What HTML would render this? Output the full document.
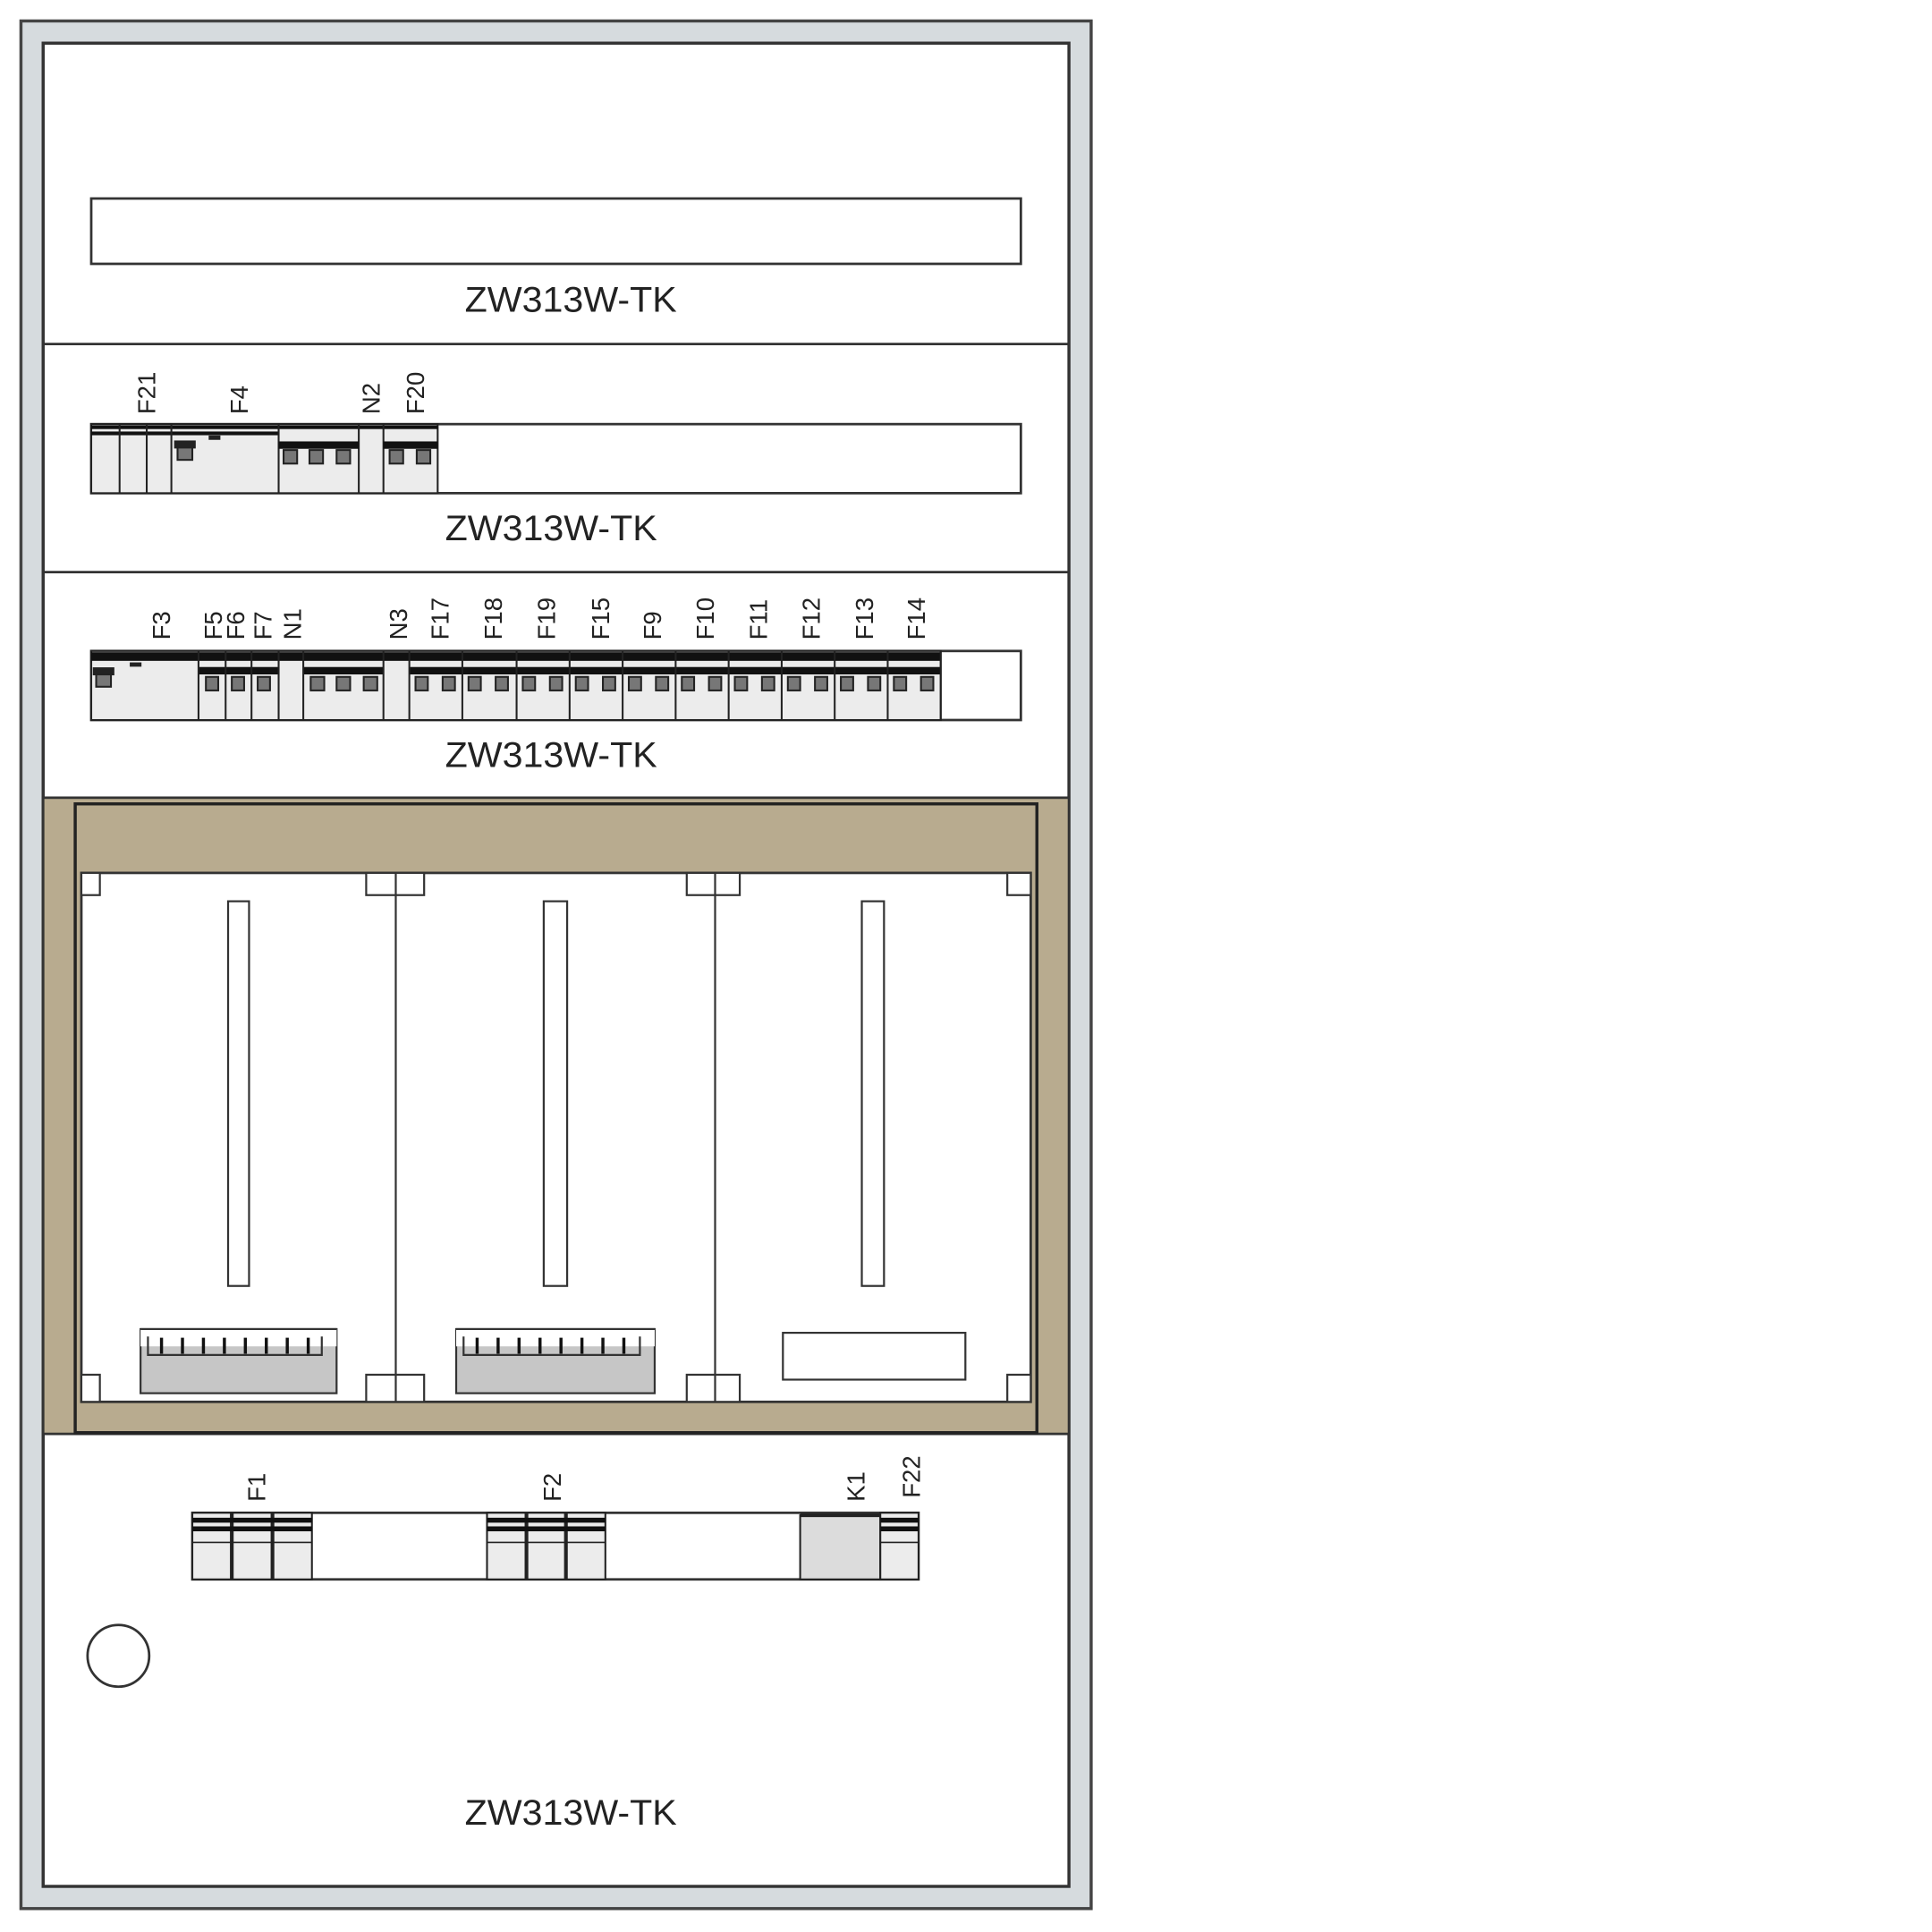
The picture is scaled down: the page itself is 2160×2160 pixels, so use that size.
<!DOCTYPE html>
<html><head><meta charset="utf-8"><style>html,body{margin:0;padding:0;background:#fff}svg{display:block}</style></head>
<body>
<svg width="2160" height="2160" viewBox="0 0 1567 1567" xmlns="http://www.w3.org/2000/svg" font-family="Liberation Sans, sans-serif">
<rect x="0" y="0" width="1567" height="1567" fill="#fff"/>
<!-- frame -->
<rect x="17" y="17" width="868" height="1531" fill="#d6dbde" stroke="#444" stroke-width="2.5"/>
<rect x="35" y="35" width="832" height="1495" fill="#fff" stroke="#333" stroke-width="2.5"/>
<line x1="35" y1="279" x2="867" y2="279" stroke="#333" stroke-width="2"/>
<line x1="35" y1="464" x2="867" y2="464" stroke="#333" stroke-width="2"/>

<!-- section 1 -->
<rect x="74" y="161" width="754" height="53" fill="#fff" stroke="#333" stroke-width="2"/>
<text x="463" y="253" font-size="29" text-anchor="middle" textLength="172" lengthAdjust="spacingAndGlyphs" fill="#222">ZW313W-TK</text>

<!-- section 2 -->
<rect x="74" y="344" width="754" height="56" fill="#fff" stroke="#333" stroke-width="2"/>
<g stroke="#222" stroke-width="1.5">
<rect x="74" y="344" width="281" height="56" fill="#ececec"/>
<rect x="74" y="345" width="281" height="3" fill="#111" stroke="none"/>
<rect x="74" y="350" width="152" height="3" fill="#111" stroke="none"/>
<line x1="97" y1="344" x2="97" y2="400"/><line x1="119" y1="344" x2="119" y2="400"/><line x1="139" y1="344" x2="139" y2="400"/>
<line x1="226" y1="344" x2="226" y2="400"/><line x1="291" y1="344" x2="291" y2="400"/><line x1="311" y1="344" x2="311" y2="400"/>
<rect x="142" y="358" width="16" height="5" fill="#222"/><rect x="144" y="363" width="12" height="10" fill="#777"/>
<rect x="170" y="354" width="8" height="2" fill="#222"/>
<rect x="226" y="358" width="65" height="6" fill="#111" stroke="none"/>
<rect x="230" y="365" width="11" height="11" fill="#777"/><rect x="251" y="365" width="11" height="11" fill="#777"/><rect x="273" y="365" width="11" height="11" fill="#777"/>
<rect x="311" y="358" width="44" height="6" fill="#111" stroke="none"/>
<rect x="316" y="365" width="11" height="11" fill="#777"/><rect x="338" y="365" width="11" height="11" fill="#777"/>
</g>
<g font-size="20" fill="#222">
<text transform="translate(126,336) rotate(-90)">F21</text>
<text transform="translate(201,336) rotate(-90)">F4</text>
<text transform="translate(308,336) rotate(-90)">N2</text>
<text transform="translate(344,336) rotate(-90)">F20</text>
</g>
<text x="447" y="438" font-size="29" text-anchor="middle" textLength="172" lengthAdjust="spacingAndGlyphs" fill="#222">ZW313W-TK</text>

<!-- section 3 -->
<rect x="74" y="528" width="754" height="56" fill="#fff" stroke="#333" stroke-width="2"/>
<g stroke="#222" stroke-width="1.5">
<rect x="74" y="528" width="689" height="56" fill="#ececec"/>
<rect x="74" y="529" width="689" height="7" fill="#111" stroke="none"/>
<rect x="161" y="541" width="65" height="6" fill="#111" stroke="none"/>
<rect x="246" y="541" width="65" height="6" fill="#111" stroke="none"/>
<rect x="332" y="541" width="431" height="6" fill="#111" stroke="none"/>
<line x1="161" y1="528" x2="161" y2="584"/><line x1="183" y1="528" x2="183" y2="584"/><line x1="204" y1="528" x2="204" y2="584"/><line x1="226" y1="528" x2="226" y2="584"/><line x1="246" y1="528" x2="246" y2="584"/><line x1="311" y1="528" x2="311" y2="584"/><line x1="332" y1="528" x2="332" y2="584"/>
<line x1="375" y1="528" x2="375" y2="584"/><line x1="419" y1="528" x2="419" y2="584"/><line x1="462" y1="528" x2="462" y2="584"/><line x1="505" y1="528" x2="505" y2="584"/><line x1="548" y1="528" x2="548" y2="584"/><line x1="591" y1="528" x2="591" y2="584"/><line x1="634" y1="528" x2="634" y2="584"/><line x1="677" y1="528" x2="677" y2="584"/><line x1="720" y1="528" x2="720" y2="584"/><line x1="763" y1="528" x2="763" y2="584"/>
<rect x="76" y="542" width="16" height="5" fill="#222"/><rect x="78" y="547" width="12" height="10" fill="#777"/>
<rect x="106" y="538" width="8" height="2" fill="#222"/>
<g fill="#777">
<rect x="167" y="549" width="10" height="11"/><rect x="188" y="549" width="10" height="11"/><rect x="209" y="549" width="10" height="11"/>
<rect x="252" y="549" width="11" height="11"/><rect x="273" y="549" width="11" height="11"/><rect x="295" y="549" width="11" height="11"/>
<rect x="337" y="549" width="10" height="11"/><rect x="359" y="549" width="10" height="11"/>
<rect x="380" y="549" width="10" height="11"/><rect x="402" y="549" width="10" height="11"/>
<rect x="424" y="549" width="10" height="11"/><rect x="446" y="549" width="10" height="11"/>
<rect x="467" y="549" width="10" height="11"/><rect x="489" y="549" width="10" height="11"/>
<rect x="510" y="549" width="10" height="11"/><rect x="532" y="549" width="10" height="11"/>
<rect x="553" y="549" width="10" height="11"/><rect x="575" y="549" width="10" height="11"/>
<rect x="596" y="549" width="10" height="11"/><rect x="618" y="549" width="10" height="11"/>
<rect x="639" y="549" width="10" height="11"/><rect x="661" y="549" width="10" height="11"/>
<rect x="682" y="549" width="10" height="11"/><rect x="704" y="549" width="10" height="11"/>
<rect x="725" y="549" width="10" height="11"/><rect x="747" y="549" width="10" height="11"/>
</g>
</g>
<g font-size="20" fill="#222">
<text transform="translate(138,519) rotate(-90)">F3</text>
<text transform="translate(180,519) rotate(-90)">F5</text>
<text transform="translate(198,519) rotate(-90)">F6</text>
<text transform="translate(220,519) rotate(-90)">F7</text>
<text transform="translate(244,519) rotate(-90)">N1</text>
<text transform="translate(330,519) rotate(-90)">N3</text>
<text transform="translate(364,519) rotate(-90)">F17</text>
<text transform="translate(407,519) rotate(-90)">F18</text>
<text transform="translate(450,519) rotate(-90)">F19</text>
<text transform="translate(494,519) rotate(-90)">F15</text>
<text transform="translate(536,519) rotate(-90)">F9</text>
<text transform="translate(579,519) rotate(-90)">F10</text>
<text transform="translate(622,519) rotate(-90)">F11</text>
<text transform="translate(665,519) rotate(-90)">F12</text>
<text transform="translate(708,519) rotate(-90)">F13</text>
<text transform="translate(750,519) rotate(-90)">F14</text>
</g>
<text x="447" y="622" font-size="29" text-anchor="middle" textLength="172" lengthAdjust="spacingAndGlyphs" fill="#222">ZW313W-TK</text>

<!-- tan meter section -->
<rect x="35" y="647" width="832" height="516" fill="#b8ab8f" stroke="#333" stroke-width="2"/>
<rect x="61" y="652" width="780" height="510" fill="#b8ab8f" stroke="#222" stroke-width="2.5"/>
<rect x="66" y="708" width="770" height="429" fill="#fff" stroke="#333" stroke-width="2"/>
<g stroke="#333" stroke-width="1.6" fill="#fff">
<line x1="321" y1="708" x2="321" y2="1137"/><line x1="580" y1="708" x2="580" y2="1137"/>
<rect x="66" y="708" width="15" height="18"/><rect x="817" y="708" width="19" height="18"/>
<rect x="297" y="708" width="47" height="18"/><line x1="321" y1="708" x2="321" y2="726"/>
<rect x="557" y="708" width="43" height="18"/><line x1="580" y1="708" x2="580" y2="726"/>
<rect x="66" y="1115" width="15" height="22"/><rect x="817" y="1115" width="19" height="22"/>
<rect x="297" y="1115" width="47" height="22"/><line x1="321" y1="1115" x2="321" y2="1137"/>
<rect x="557" y="1115" width="43" height="22"/><line x1="580" y1="1115" x2="580" y2="1137"/>
<rect x="185" y="731" width="17" height="312"/>
<rect x="441" y="731" width="19" height="312"/>
<rect x="699" y="731" width="18" height="312"/>
<rect x="635" y="1081" width="148" height="38"/>
<rect x="114" y="1078" width="159" height="52" fill="#c6c6c6"/>
<rect x="370" y="1078" width="161" height="52" fill="#c6c6c6"/>
<rect x="114" y="1078" width="159" height="14" fill="#fff" stroke="none"/>
<rect x="370" y="1078" width="161" height="14" fill="#fff" stroke="none"/>
<path d="M114 1078 H273 M120 1084 V1099 H261 V1084" fill="none"/>
<path d="M370 1078 H531 M376 1084 V1099 H519 V1084" fill="none"/>
</g>
<g stroke="#111" stroke-width="2.5">
<line x1="131" y1="1085" x2="131" y2="1098"/><line x1="148" y1="1085" x2="148" y2="1098"/><line x1="165" y1="1085" x2="165" y2="1098"/><line x1="182" y1="1085" x2="182" y2="1098"/><line x1="199" y1="1085" x2="199" y2="1098"/><line x1="216" y1="1085" x2="216" y2="1098"/><line x1="233" y1="1085" x2="233" y2="1098"/><line x1="250" y1="1085" x2="250" y2="1098"/>
<line x1="387" y1="1085" x2="387" y2="1098"/><line x1="404" y1="1085" x2="404" y2="1098"/><line x1="421" y1="1085" x2="421" y2="1098"/><line x1="438" y1="1085" x2="438" y2="1098"/><line x1="455" y1="1085" x2="455" y2="1098"/><line x1="472" y1="1085" x2="472" y2="1098"/><line x1="489" y1="1085" x2="489" y2="1098"/><line x1="506" y1="1085" x2="506" y2="1098"/>
</g>

<!-- section 5 -->
<rect x="156" y="1227" width="589" height="54" fill="#fff" stroke="#333" stroke-width="2"/>
<g stroke="#222" stroke-width="1.5">
<rect x="156" y="1227" width="97" height="54" fill="#ececec"/>
<rect x="395" y="1227" width="96" height="54" fill="#ececec"/>
<rect x="649" y="1229" width="65" height="52" fill="#dcdcdc"/>
<rect x="714" y="1227" width="31" height="54" fill="#ececec"/>
<line x1="649" y1="1229" x2="714" y2="1229" stroke-width="3"/>
<line x1="188" y1="1227" x2="188" y2="1281" stroke-width="3"/><line x1="221" y1="1227" x2="221" y2="1281" stroke-width="3"/>
<line x1="427" y1="1227" x2="427" y2="1281" stroke-width="3"/><line x1="459" y1="1227" x2="459" y2="1281" stroke-width="3"/>
</g>
<g fill="#111">
<rect x="156" y="1231" width="97" height="4"/><rect x="156" y="1238" width="97" height="4"/>
<rect x="395" y="1231" width="96" height="4"/><rect x="395" y="1238" width="96" height="4"/>
<rect x="714" y="1231" width="31" height="4"/><rect x="714" y="1238" width="31" height="4"/>
</g>
<g stroke="#222" stroke-width="1.2"><line x1="156" y1="1251" x2="253" y2="1251"/><line x1="395" y1="1251" x2="491" y2="1251"/><line x1="714" y1="1251" x2="745" y2="1251"/></g>
<g font-size="20" fill="#222">
<text transform="translate(215,1218) rotate(-90)">F1</text>
<text transform="translate(455,1218) rotate(-90)">F2</text>
<text transform="translate(701,1218) rotate(-90)">K1</text>
<text transform="translate(746,1215) rotate(-90)">F22</text>
</g>
<circle cx="96" cy="1343" r="25" fill="#fff" stroke="#333" stroke-width="2"/>
<text x="463" y="1480" font-size="29" text-anchor="middle" textLength="172" lengthAdjust="spacingAndGlyphs" fill="#222">ZW313W-TK</text>
</svg>
</body></html>
